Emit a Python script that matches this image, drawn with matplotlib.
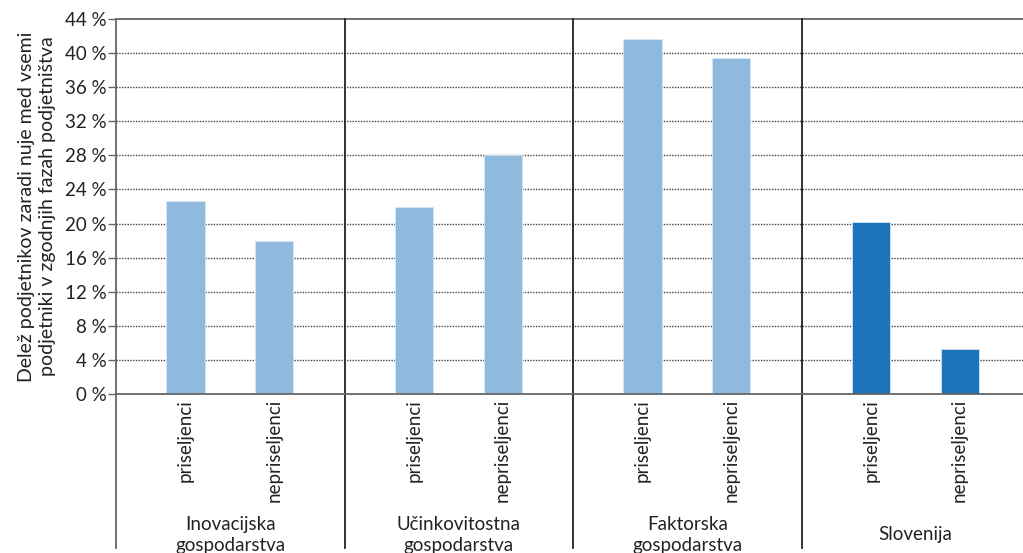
import matplotlib
matplotlib.use("Agg")
import matplotlib.pyplot as plt
import numpy as np
from matplotlib.ticker import FuncFormatter

plt.rcParams["font.family"] = ["Lato", "DejaVu Sans"]

groups = ["Inovacijska\ngospodarstva", "Učinkovitostna\ngospodarstva",
          "Faktorska\ngospodarstva", "Slovenija"]
categories = ["priseljenci", "nepriseljenci"]
priseljenci = [22.6, 21.9, 41.6, 20.2]
nepriseljenci = [17.9, 28.1, 39.4, 5.3]
bar_colors = ["#8fbadd", "#8fbadd", "#8fbadd", "#1c75bc"]
y_ticks = list(range(0, 45, 4))

gw = 2.58          # width of one group in data units
off = 0.785        # first bar offset inside a group
bw = 0.43
fs = 13.5

fig = plt.figure(figsize=(10.23, 5.53), dpi=100)
ax = fig.add_axes([116 / 1023, 159 / 553, 907 / 1023, 375 / 553])

for i in range(len(groups)):
    x0 = i * gw + off
    for k, vals in enumerate([priseljenci, nepriseljenci]):
        ax.bar(x0 + k, vals[i], width=bw, color=bar_colors[i],
               edgecolor="#d6e6f3", linewidth=0.6, zorder=3)
        ax.text(x0 + k, -0.6, categories[k], rotation=90, ha="center",
                va="top", fontsize=fs, color="#222222")
    gx = i * gw + gw / 2
    ax.text(gx, -16.5, groups[i], ha="center", va="center", fontsize=fs,
            color="#222222", linespacing=1.3)

# group separators reaching below the axis
for i in range(1, len(groups)):
    ax.axvline(i * gw, ymin=-0.41, ymax=1, color="#222222", lw=1.3,
               clip_on=False, zorder=4)
ax.axvline(0, ymin=-0.41, ymax=1, color="#666666", lw=1.3, clip_on=False,
           zorder=4)

ax.set_xlim(0, 907 / 228.5 * gw)
ax.set_ylim(0, 44)
ax.set_yticks(y_ticks)
ax.yaxis.set_major_formatter(FuncFormatter(lambda v, p: f"{v:.0f} %"))
ax.tick_params(axis="y", length=6, width=1, color="#666666", labelsize=fs,
               pad=1, labelcolor="#222222")
ax.set_xticks([])
for y in y_ticks[1:-1]:
    ax.axhline(y, color="#444444", lw=1, ls=(0, (1, 1)), zorder=1)

for s in ["right", "left"]:
    ax.spines[s].set_visible(False)
ax.spines["top"].set_color("#555555")
ax.spines["top"].set_linewidth(1.2)
ax.spines["bottom"].set_color("#666666")
ax.spines["bottom"].set_linewidth(1.3)
ax.spines["bottom"].set_zorder(5)

ax.set_ylabel("Delež podjetnikov zaradi nuje med vsemi\n"
              "podjetniki v zgodnjih fazah podjetništva",
              fontsize=14, color="#222222", labelpad=6, linespacing=1.3)

fig.savefig("out.png", dpi=100)
